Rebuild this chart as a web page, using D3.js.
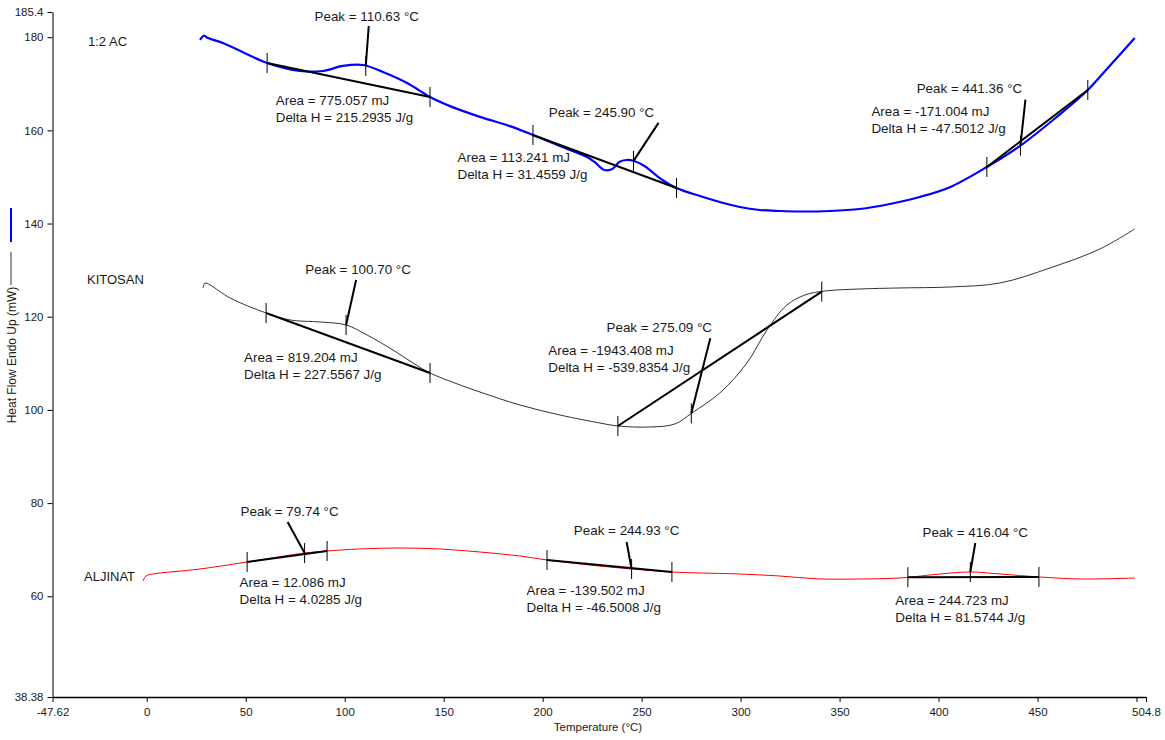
<!DOCTYPE html>
<html>
<head>
<meta charset="utf-8">
<script src="https://cdn.jsdelivr.net/npm/d3@7"></script>
<style>
  body { margin: 0; background: #fff; }
  text { font-family: "Liberation Sans", Arial, sans-serif; fill: #1a1a1a; }
</style>
</head>
<body>
<svg width="1165" height="740"></svg>
<script>
// axis ticks
const xTicks = [-47.62, 0, 50, 100, 150, 200, 250, 300, 350, 400, 450, 500, 504.8];
const xTickLabels = ['-47.62', '0', '50', '100', '150', '200', '250', '300', '350', '400', '450', '', '504.8'];
const yTicks = [38.38, 60, 80, 100, 120, 140, 160, 180, 185.4];
const yTickLabels = ['38.38', '60', '80', '100', '120', '140', '160', '180', '185.4'];

// curves: [temperature °C, heat flow mW]
const acCurve = [
  [26.9, 179.4], [28.9, 180.3], [31.0, 179.8], [38.5, 178.75], [60.8, 174.46], [77.4, 172.74],
  [89.0, 172.74], [99.1, 173.82], [109.2, 174.03], [119.3, 172.53], [131.5, 170.17], [143.1, 167.16],
  [153.2, 165.2], [168.3, 162.9], [183.5, 160.9], [195.1, 159.01], [208.7, 156.64], [222.4, 154.28],
  [226.2, 153.21], [231.2, 151.49], [235.2, 151.70], [238.7, 153.21], [242.3, 153.64], [246.3, 153.43],
  [251.4, 152.35], [260.5, 149.35], [267.6, 147.63], [279.4, 145.9], [289.5, 144.63], [299.6, 143.55],
  [309.7, 142.91], [319.8, 142.69], [329.9, 142.58], [345.1, 142.69], [360.2, 143.12], [375.4, 144.20],
  [390.5, 145.70], [405.7, 147.8], [424.4, 152.14], [441.0, 156.60], [459.7, 162.87], [475.4, 168.67],
  [485.5, 173.39], [499.1, 179.83]
];
const kitosanCurve = [
  [28.4, 126.17], [29.4, 127.24], [32.0, 126.81], [42.1, 124.02], [60.3, 120.80], [72.4, 119.30],
  [87.5, 118.87], [100.7, 118.22], [111.3, 116.08], [124.4, 112.86], [134.5, 110.07], [143.1, 107.92],
  [156.7, 105.6], [168.3, 103.84], [188.5, 101.05], [208.7, 98.91], [228.9, 97.19], [238.0, 96.55],
  [254.2, 96.33], [266.8, 96.98], [275.4, 99.34], [289.5, 103.63], [303.2, 110.07], [313.3, 117.15],
  [323.4, 122.52], [332.5, 124.66], [342.6, 125.52], [360.2, 125.95], [380.4, 126.17], [405.7, 126.38],
  [431.0, 127.24], [456.3, 130.46], [481.5, 134.54], [499.1, 138.83]
];
const aljinatCurve = [
  [-1.9, 63.28], [-0.4, 64.35], [3.2, 64.78], [26.9, 65.85], [50.7, 67.36], [80.0, 69.29],
  [91.1, 69.72], [107.7, 70.15], [127.9, 70.36], [148.1, 70.15], [168.3, 69.50], [188.5, 68.64],
  [202.2, 67.79], [223.9, 66.71], [245.1, 65.85], [265.3, 65.21], [279.4, 65.0], [299.6, 64.78],
  [319.8, 64.35], [340.0, 63.71], [360.2, 63.71], [380.4, 63.92], [400.7, 64.78], [415.9, 65.21],
  [431.0, 64.78], [451.2, 64.14], [471.4, 63.71], [499.1, 63.92]
];

// peak integrations: [peak °C, baseline start °C, baseline end °C, area mJ, delta H J/g]
const acPeaks = [
  [110.63, 60.8, 143.1, '775.057', '215.2935'],
  [245.90, 195.1, 267.6, '113.241', '31.4559'],
  [441.36, 424.4, 475.4, '-171.004', '-47.5012']
];
const kitosanPeaks = [
  [100.70, 60.3, 143.1, '819.204', '227.5567'],
  [275.09, 238.0, 341.0, '-1943.408', '-539.8354']
];
const aljinatPeaks = [
  [79.74, 50.7, 91.1, '12.086', '4.0285'],
  [244.93, 202.2, 265.3, '-139.502', '-46.5008'],
  [416.04, 384.5, 450.7, '244.723', '81.5744']
];
const seriesNames = ['1:2 AC', 'KITOSAN', 'ALJINAT'];

// layout (pixel offsets from each peak point): leader end, peak label, area label
const peakLayout = [
  { lead: [3, -40], label: [1, -45], area: [-90, 39] },
  { lead: [25, -38], label: [-32, -44], area: [-176, 1] },
  { lead: [5, -46], label: [-51, -53], area: [-149, -30] },
  { lead: [10, -45], label: [12, -51], area: [-102, 37] },
  { lead: [19, -75], label: [-32, -81], area: [-143, -58] },
  { lead: [-17, -31], label: [-15, -37], area: [-65, 34] },
  { lead: [-5, -27], label: [-5, -34], area: [-105, 26] },
  { lead: [5, -29], label: [5, -35], area: [-75, 33] }
];

const svg = d3.select('svg');

const x = d3.scaleLinear().domain([-47.62, 504.8]).range([52.5, 1146]);
const y = d3.scaleLinear().domain([38.38, 185.4]).range([697, 12]);

// axes
const yAxis = d3.axisLeft(y).tickValues(yTicks)
  .tickFormat((d, i) => yTickLabels[i]).tickSize(5).tickPadding(4).tickSizeOuter(0);
const yAxisG = svg.append('g')
  .attr('transform', `translate(${x.range()[0]},0)`)
  .call(yAxis);
yAxisG.select('.domain').attr('stroke', '#7a7a7a').attr('stroke-width', 2);
yAxisG.selectAll('text').attr('font-size', 11.5).style('font-family', '"Liberation Sans", Arial');

const xAxis = d3.axisBottom(x).tickValues(xTicks)
  .tickFormat((d, i) => xTickLabels[i]).tickSize(5).tickPadding(6).tickSizeOuter(0);
const xAxisG = svg.append('g')
  .attr('transform', `translate(0,${y.range()[0]})`)
  .call(xAxis);
xAxisG.select('.domain').attr('stroke', '#000').attr('stroke-width', 1.5);
xAxisG.selectAll('text').attr('font-size', 11.5).style('font-family', '"Liberation Sans", Arial');

svg.append('text')
  .attr('x', 598).attr('y', 731)
  .attr('text-anchor', 'middle').attr('font-size', 11.5)
  .text('Temperature (°C)');

svg.append('text')
  .attr('transform', 'translate(16,355) rotate(-90)')
  .attr('text-anchor', 'middle').attr('font-size', 12)
  .text('Heat Flow Endo Up (mW)');
svg.append('line').attr('x1', 11).attr('x2', 11).attr('y1', 208).attr('y2', 242)
  .attr('stroke', '#0000ff').attr('stroke-width', 2);
svg.append('line').attr('x1', 11).attr('x2', 11).attr('y1', 252).attr('y2', 285)
  .attr('stroke', '#333').attr('stroke-width', 1);

// curves
const line = d3.line()
  .x(d => x(d[0]))
  .y(d => y(d[1]))
  .curve(d3.curveCatmullRom.alpha(0.5));

const interp = (pts, t) => {
  const i = d3.bisector(d => d[0]).left(pts, t);
  if (i <= 0) return pts[0][1];
  if (i >= pts.length) return pts[pts.length - 1][1];
  const a = pts[i - 1], b = pts[i];
  return a[1] + (b[1] - a[1]) * (t - a[0]) / (b[0] - a[0]);
};

const series = [
  { curve: acCurve, peaks: acPeaks, color: '#0000ff', width: 2.2, name: [88, 46] },
  { curve: kitosanCurve, peaks: kitosanPeaks, color: '#333', width: 1, name: [87, 284] },
  { curve: aljinatCurve, peaks: aljinatPeaks, color: '#ff0000', width: 1, name: [84, 581] }
];

series.forEach((s, si) => {
  svg.append('path')
    .datum(s.curve)
    .attr('d', line)
    .attr('fill', 'none')
    .attr('stroke', s.color)
    .attr('stroke-width', s.width);

  svg.append('text')
    .attr('x', s.name[0]).attr('y', s.name[1])
    .attr('font-size', 13)
    .text(seriesNames[si]);
});

// peak annotations
let k = 0;
series.forEach(s => {
  s.peaks.forEach(p => {
    const lay = peakLayout[k++];
    const [tp, t0, t1, area, dh] = p;
    const px = x(tp), py = y(interp(s.curve, tp));
    const x0 = x(t0), y0 = y(interp(s.curve, t0));
    const x1 = x(t1), y1 = y(interp(s.curve, t1));
    const g = svg.append('g');

    g.append('line')
      .attr('x1', x0).attr('y1', y0).attr('x2', x1).attr('y2', y1)
      .attr('stroke', '#000').attr('stroke-width', 2);
    [[x0, y0], [x1, y1], [px, py]].forEach(([tx, ty]) => {
      g.append('line')
        .attr('x1', tx).attr('x2', tx).attr('y1', ty - 10).attr('y2', ty + 10)
        .attr('stroke', '#000').attr('stroke-width', 1);
    });
    g.append('line')
      .attr('x1', px).attr('y1', py)
      .attr('x2', px + lay.lead[0]).attr('y2', py + lay.lead[1])
      .attr('stroke', '#000').attr('stroke-width', 2);

    g.append('text')
      .attr('x', px + lay.label[0]).attr('y', py + lay.label[1])
      .attr('text-anchor', 'middle').attr('font-size', 13.4)
      .text(`Peak = ${tp.toFixed(2)} °C`);
    g.append('text')
      .attr('x', px + lay.area[0]).attr('y', py + lay.area[1])
      .attr('font-size', 13.4)
      .text(`Area = ${area} mJ`);
    g.append('text')
      .attr('x', px + lay.area[0]).attr('y', py + lay.area[1] + 17)
      .attr('font-size', 13.4)
      .text(`Delta H = ${dh} J/g`);
  });
});
</script>
</body>
</html>
